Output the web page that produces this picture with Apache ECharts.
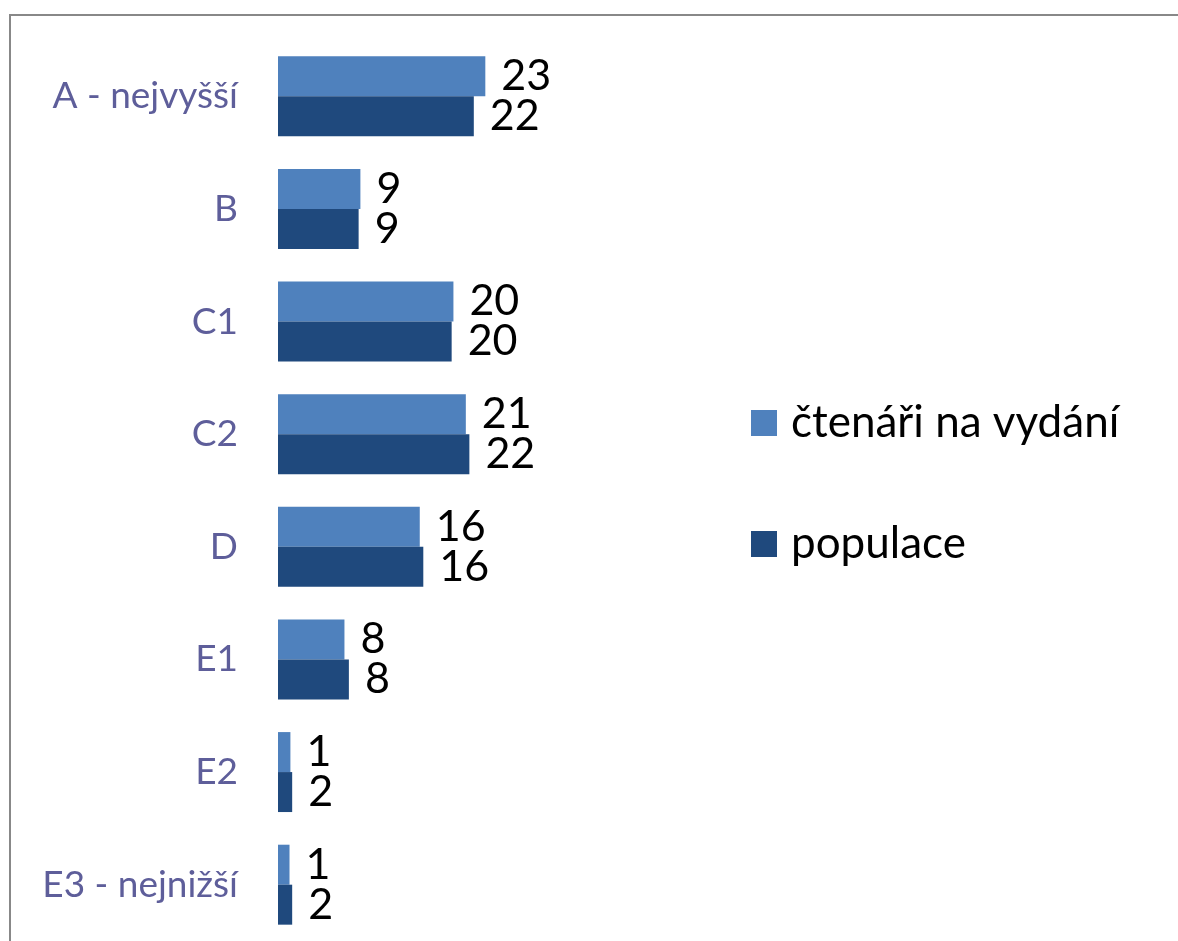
<!DOCTYPE html>
<html>
<head>
<meta charset="utf-8">
<script src="https://cdn.jsdelivr.net/npm/echarts@6/dist/echarts.min.js"></script>
<style>
html,body{margin:0;padding:0;background:#fff;}
#chart{width:1178px;height:941px;}
</style>
</head>
<body>
<div id="chart"></div>
<script>
var categories = ['A - nejvyšší', 'B', 'C1', 'C2', 'D', 'E1', 'E2', 'E3 - nejnižší'];
var seriesNames = ['čtenáři na vydání', 'populace'];
var ctenari = [23.4, 9.3, 19.8, 21.2, 16.0, 7.5, 1.4, 1.3];
var populace = [22.1, 9.1, 19.6, 21.6, 16.4, 8.0, 1.6, 1.6];

var chart = echarts.init(document.getElementById('chart'), null, {renderer: 'canvas'});
var valueLabel = {
  show: true,
  position: 'right',
  distance: 16,
  color: '#000',
  fontFamily: 'Lato',
  fontSize: 43,
  formatter: function (p) { return Math.round(p.value); }
};
chart.setOption({
  backgroundColor: '#ffffff',
  animation: false,
  graphic: [{
    type: 'rect',
    shape: {x: 10, y: 15, width: 1300, height: 1100},
    style: {fill: 'none', stroke: '#888888', lineWidth: 2},
    silent: true
  }],
  legend: {
    orient: 'vertical',
    left: 746,
    top: 392,
    itemWidth: 26,
    itemHeight: 26,
    itemGap: 69,
    icon: 'rect',
    data: seriesNames,
    textStyle: {fontFamily: 'Lato', fontSize: 44, color: '#000', lineHeight: 52, padding: [0, 0, 0, 9]}
  },
  grid: {left: 278, top: 40, width: 221.5, bottom: 0, containLabel: false},
  xAxis: {
    type: 'value', min: 0, max: 25, show: false
  },
  yAxis: {
    type: 'category',
    data: categories,
    inverse: true,
    axisLine: {show: false},
    axisTick: {show: false},
    axisLabel: {fontFamily: 'Lato', fontSize: 37, color: '#5E5E9A', margin: 40}
  },
  series: [
    {name: seriesNames[0], type: 'bar', data: ctenari, barGap: '0%', barCategoryGap: '29%',
     itemStyle: {color: '#4F81BD'}, label: valueLabel},
    {name: seriesNames[1], type: 'bar', data: populace, barGap: '0%', barCategoryGap: '29%',
     itemStyle: {color: '#1F497D'}, label: valueLabel}
  ]
});
</script>
</body>
</html>
